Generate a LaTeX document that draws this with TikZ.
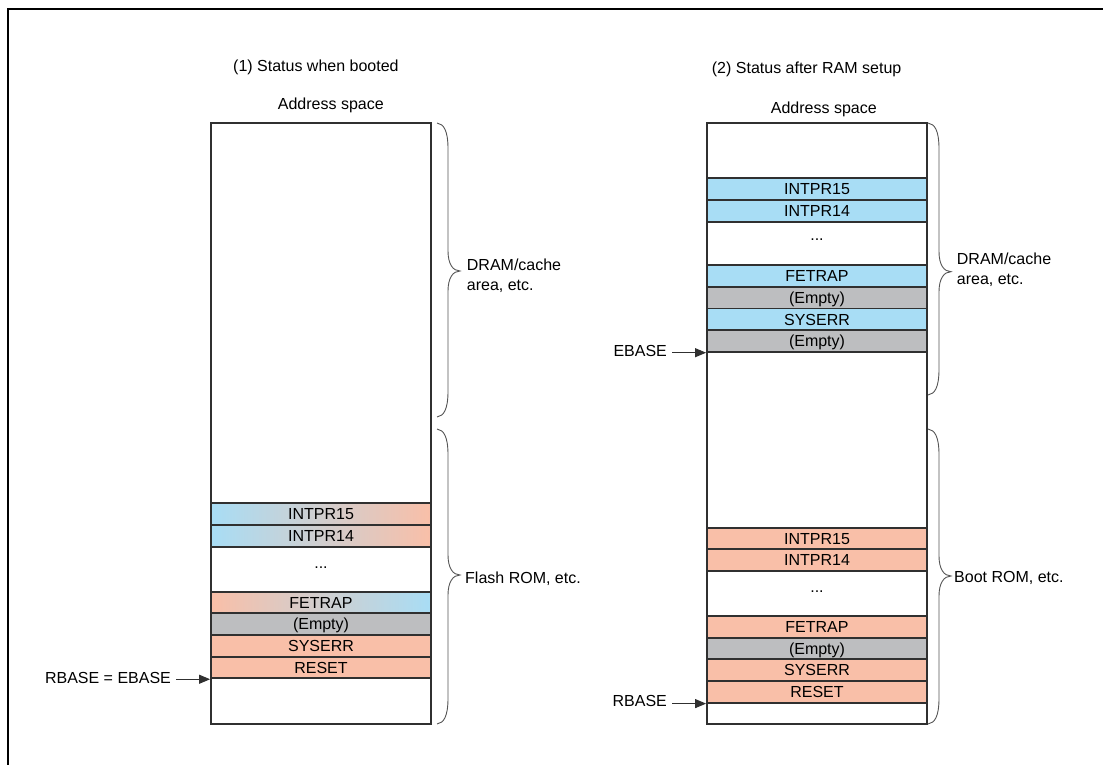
\documentclass[tikz,border=0pt]{standalone}
\usepackage{fontspec}
\setmainfont{Liberation Sans}
\usetikzlibrary{arrows.meta}
\definecolor{cBlue}{HTML}{A8DDF5}
\definecolor{cSalmon}{HTML}{F9BFA8}
\definecolor{cGray}{HTML}{BDBEC0}
\definecolor{cLine}{HTML}{303030}
\definecolor{cBrace}{HTML}{555555}
\newcommand\membrace[4]{% x0, ytop, ybot, ytip
  \draw[bracestyle] (#1,#2) .. controls ({#1+7},{#2+1}) and ({#1+11},{#2+8}) .. ({#1+11},{#2+26})
    -- ({#1+11},{#4-20}) .. controls ({#1+11},{#4-7}) and ({#1+16},{#4}) .. ({#1+23},{#4})
    .. controls ({#1+16},{#4}) and ({#1+11},{#4+7}) .. ({#1+11},{#4+20})
    -- ({#1+11},{#3-26}) .. controls ({#1+11},{#3-8}) and ({#1+7},{#3-1}) .. (#1,#3);}
\tikzset{
  txt/.style={font=\fontsize{16}{20}\selectfont, text height=11.5pt, text depth=0pt, inner sep=0pt},
  mltxt/.style={font=\fontsize{16}{20}\selectfont, align=left, inner sep=0pt},
  row/.style={txt, draw=cLine, line width=1.8pt, minimum width=220pt, minimum height=21.7pt},
  membox/.style={draw=cLine, line width=1.8pt, minimum width=220pt, minimum height=601pt, inner sep=0pt},
  blue/.style={fill=cBlue},
  salmon/.style={fill=cSalmon},
  grey/.style={fill=cGray},
  bs/.style={left color=cBlue, right color=cSalmon},
  sb/.style={left color=cSalmon, right color=cBlue},
  bracestyle/.style={draw=cBrace, line width=0.9pt},
  lbl/.style={txt, inner xsep=5pt, anchor=east},
  arr/.style={draw=cLine, line width=1pt, -{Triangle[length=11pt,width=9pt]}}
}
\begin{document}
\begin{tikzpicture}[x=1pt,y=-1pt]
\useasboundingbox (0,0) rectangle (1103,765);
\draw[line width=2pt] (7.7,765) -- (7.7,9.3) -- (1103,9.3);

% titles
\node[txt, anchor=west] (t1) at (233,66) {(1) Status when booted};
\node[txt, anchor=west] (a1) at (277.7,103.5) {Address space};
\node[txt, anchor=west] (t2) at (711.7,67.5) {(2) Status after RAM setup};
\node[txt, anchor=west] (a2) at (770.7,108) {Address space};

% left memory map
\node[membox] (memL) at (321,423.5) {};
\node[row, bs] (lI15) at (321,514.15) {INTPR15};
\node[row, bs] (lI14) at (321,535.85) {INTPR14};
\node[txt] (ldots) at (321,562.5) {...};
\node[row, sb] (lFE) at (321,602.5) {FETRAP};
\node[row, grey] (lEM) at (321,624.15) {(Empty)};
\node[row, salmon] (lSY) at (321,645.85) {SYSERR};
\node[row, salmon] (lRE) at (321,667.5) {RESET};

% right memory map
\node[membox] (memR) at (817,423.5) {};
\node[row, blue] (rI15) at (817,189.15) {INTPR15};
\node[row, blue] (rI14) at (817,210.85) {INTPR14};
\node[txt] (rdots1) at (817,234.3) {...};
\node[row, blue] (rFE) at (817,275.85) {FETRAP};
\node[row, grey] (rEM) at (817,297.55) {(Empty)};
\node[row, blue] (rSY) at (817,319.25) {SYSERR};
\node[row, grey] (rEM2) at (817,340.95) {(Empty)};

\node[row, salmon] (bI15) at (817,538.5) {INTPR15};
\node[row, salmon] (bI14) at (817,560.15) {INTPR14};
\node[txt] (rdots2) at (817,587) {...};
\node[row, salmon] (bFE) at (817,626.85) {FETRAP};
\node[row, grey] (bEM) at (817,648.5) {(Empty)};
\node[row, salmon] (bSY) at (817,670.15) {SYSERR};
\node[row, salmon] (bRE) at (817,691.85) {RESET};

% braces
\membrace{437}{123}{417}{271}
\membrace{437}{429}{724}{575}
\membrace{928}{123}{395}{271.7}
\membrace{928}{429}{724}{576}
\node[mltxt, anchor=west] (dramL) at (466.7,276) {DRAM/cache\\area, etc.};
\node[txt, anchor=west] (flash) at (465,578) {Flash ROM, etc.};
\node[mltxt, anchor=west] (dramR) at (956.7,270) {DRAM/cache\\area, etc.};
\node[txt, anchor=west] (boot) at (954,576.7) {Boot ROM, etc.};

% base pointers
\node[lbl] (rbeL) at ([xshift=-34pt, yshift=2pt]lRE.south west) {RBASE = EBASE};
\draw[arr] (rbeL.east |- lRE.south west) -- (lRE.south west);
\node[lbl] (ebR) at ([xshift=-34pt, yshift=2pt]rEM2.south west) {EBASE};
\draw[arr] (ebR.east |- rEM2.south west) -- (rEM2.south west);
\node[lbl] (rbR) at ([xshift=-34pt, yshift=3pt]bRE.south west) {RBASE};
\draw[arr] (rbR.east |- bRE.south west) -- (bRE.south west);
\end{tikzpicture}
\end{document}
